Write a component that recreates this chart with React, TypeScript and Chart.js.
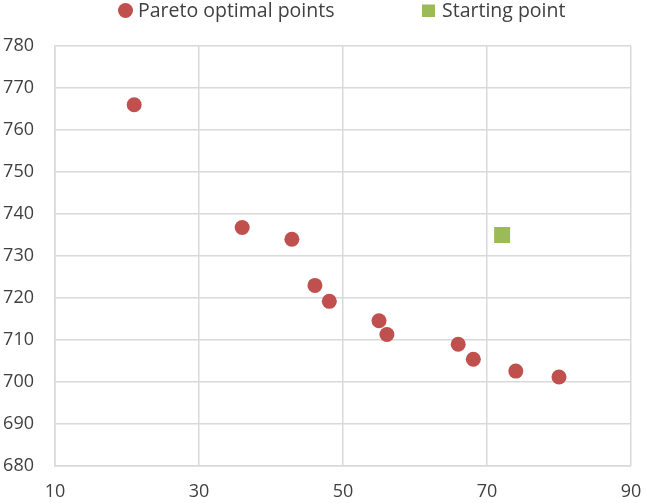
import React, { useEffect, useRef } from "react";
import { Chart, registerables } from "chart.js";

Chart.register(...registerables);

const paretoX = [21, 36, 42.9, 46.1, 48.1, 55, 56.1, 66, 68.1, 74, 80];
const paretoY = [766, 736.8, 734, 723, 719.2, 714.6, 711.3, 709, 705.4, 702.6, 701.2];
const startX = [72.1];
const startY = [735];
const xTicks = [10, 30, 50, 70, 90];
const yMin = 680;
const yMax = 780;
const seriesNames = ["Pareto optimal points", "Starting point"];
const seriesColors = ["#C0504D", "#9BBB59"];

const FONT = "'Open Sans', sans-serif";

const legendPlugin = {
  id: "customLegend",
  afterDraw(chart: any) {
    const ctx = chart.ctx;
    ctx.save();
    ctx.font = `19.5px ${FONT}`;
    ctx.textBaseline = "middle";
    const cy = 11;
    ctx.beginPath();
    ctx.fillStyle = seriesColors[0];
    ctx.arc(125.5, 10.5, 7.5, 0, Math.PI * 2);
    ctx.fill();
    ctx.fillStyle = "#404040";
    ctx.textAlign = "left";
    ctx.fillText(seriesNames[0], 138, cy);
    ctx.fillStyle = seriesColors[1];
    ctx.fillRect(422, 4.5, 13, 12.5);
    ctx.fillStyle = "#404040";
    ctx.fillText(seriesNames[1], 442, cy);
    ctx.restore();
  },
};

export default function App() {
  const ref = useRef<HTMLCanvasElement>(null);
  useEffect(() => {
    document.body.style.margin = "0";
    const chart = new Chart(ref.current!, {
      type: "scatter",
      data: {
        datasets: [
          {
            label: seriesNames[0],
            data: paretoX.map((x, i) => ({ x, y: paretoY[i] })),
            backgroundColor: seriesColors[0],
            borderColor: seriesColors[0],
            pointStyle: "circle",
            pointRadius: 7.5,
            borderWidth: 0,
          },
          {
            label: seriesNames[1],
            data: startX.map((x, i) => ({ x, y: startY[i] })),
            backgroundColor: seriesColors[1],
            borderColor: seriesColors[1],
            pointStyle: "rect",
            pointRadius: 11.3,
            borderWidth: 0,
          },
        ],
      },
      options: {
        responsive: false,
        animation: false,
        devicePixelRatio: 1,
        layout: { padding: { top: 46, right: 15, left: 0, bottom: 0 } },
        plugins: {
          legend: { display: false },
          tooltip: { enabled: false },
        },
        scales: {
          x: {
            type: "linear",
            min: xTicks[0],
            max: xTicks[xTicks.length - 1],
            afterBuildTicks: (scale: any) => {
              scale.ticks = xTicks.map((v) => ({ value: v }));
            },
            afterFit: (scale: any) => {
              scale.height = 37;
              scale.paddingLeft = 0;
              scale.paddingRight = 0;
            },
            grid: { color: "#d9d9d9", lineWidth: 1.5, drawTicks: false },
            border: { color: "#d9d9d9", width: 1.5 },
            ticks: {
              padding: 15,
              color: "#404040",
              font: { family: FONT, size: 18 },
              maxRotation: 0,
            },
          },
          y: {
            type: "linear",
            min: yMin,
            max: yMax,
            afterFit: (scale: any) => {
              scale.width = 55;
            },
            grid: { color: "#d9d9d9", lineWidth: 1.5, drawTicks: false },
            border: { color: "#d9d9d9", width: 1.5 },
            ticks: {
              stepSize: 10,
              padding: 21,
              color: "#404040",
              font: { family: FONT, size: 18 },
            },
          },
        },
      },
      plugins: [legendPlugin],
    });
    return () => chart.destroy();
  }, []);
  return (
    <div style={{ position: "absolute", left: 0, top: 0, width: 646, height: 503 }}>
      <canvas ref={ref} width={646} height={503} />
    </div>
  );
}
